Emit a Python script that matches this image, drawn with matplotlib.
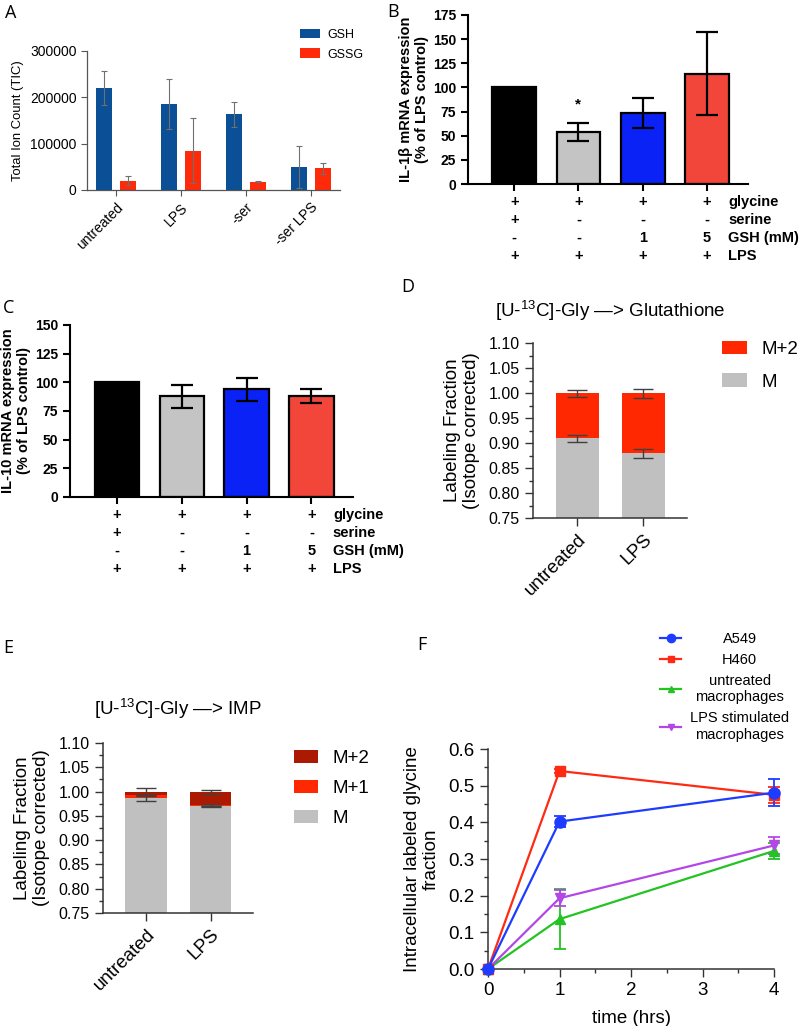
import matplotlib
matplotlib.use('Agg')
import matplotlib.pyplot as plt
import numpy as np
from matplotlib.ticker import MultipleLocator, FormatStrFormatter, FixedLocator
from matplotlib.lines import Line2D

plt.rcParams['font.family'] = ['Liberation Sans', 'DejaVu Sans']
plt.rcParams['mathtext.fontset'] = 'custom'
plt.rcParams['mathtext.rm'] = 'Liberation Sans'
plt.rcParams['mathtext.it'] = 'Liberation Sans:italic'
plt.rcParams['mathtext.bf'] = 'Liberation Sans:bold'

# ---------------- DATA ----------------
# Panel A
a_categories = ['untreated', 'LPS', '-ser', '-ser LPS']
a_gsh = [220000, 185000, 163000, 50000]
a_gsh_err = [36000, 54000, 26000, 46000]
a_gssg = [20000, 85000, 18000, 47000]
a_gssg_err = [10000, 70000, 1000, 12000]

# Panel B (IL-1beta)
b_values = [100, 54, 74, 114]
b_err = [0, 9, 15.5, 43]
# Panel C (IL-10)
c_values = [100, 88, 94, 88]
c_err = [0, 10, 10, 6]

table_labels = ['glycine', 'serine', 'GSH (mM)', 'LPS']
table_glycine = ['+', '+', '+', '+']
table_serine = ['+', '-', '-', '-']
table_gsh = ['-', '-', '1', '5']
table_lps = ['+', '+', '+', '+']

# Panel D (Glutathione)
d_categories = ['untreated', 'LPS']
d_m = [0.910, 0.880]
d_m2 = [0.090, 0.120]
d_m_err = [0.007, 0.009]
d_top_err = [0.007, 0.009]

# Panel E (IMP)
e_categories = ['untreated', 'LPS']
e_m = [0.986, 0.970]
e_m1 = [0.007, 0.002]
e_m2 = [0.007, 0.028]
e_m_err = [0.005, 0.0]
e_m1_err = [0.0, 0.003]
e_top_err = [0.007, 0.004]

# Panel F (time course)
f_time = [0, 1, 4]
f_a549 = [0.0, 0.402, 0.481]
f_a549_err = [0.0, 0.015, 0.037]
f_h460 = [0.0, 0.540, 0.475]
f_h460_err = [0.0, 0.005, 0.021]
f_untr = [0.0, 0.136, 0.322]
f_untr_err = [0.0, 0.081, 0.021]
f_lps = [0.0, 0.193, 0.337]
f_lps_err = [0.0, 0.022, 0.024]

# ---------------- FIGURE ----------------
W, H = 800, 1026
fig = plt.figure(figsize=(W / 100, H / 100), dpi=100)


def px_axes(x0, y0, x1, y1):
    return fig.add_axes([x0 / W, 1 - y1 / H, (x1 - x0) / W, (y1 - y0) / H])


def letter(x, y, s):
    fig.text(x / W, 1 - y / H, s, fontsize=13, family=['Open Sans', 'DejaVu Sans'],
             ha='left', va='center')


# ---------- Panel A ----------
axA = px_axes(87, 51, 340, 190)
xa = np.arange(len(a_categories))
off = 0.185
bw = 0.25
axA.bar(xa - off, a_gsh, bw, color='#0b4f96', label='GSH', zorder=2)
axA.bar(xa + off, a_gssg, bw, color='#ff2a0a', label='GSSG', zorder=2)
axA.errorbar(xa - off, a_gsh, yerr=a_gsh_err, fmt='none', ecolor='#707070',
             elinewidth=0.8, capsize=2.2, capthick=0.8, zorder=3)
axA.errorbar(xa + off, a_gssg, yerr=a_gssg_err, fmt='none', ecolor='#707070',
             elinewidth=0.8, capsize=2.2, capthick=0.8, zorder=3)
axA.set_xlim(-0.45, 3.45)
axA.set_ylim(0, 300000)
axA.yaxis.set_major_locator(FixedLocator([0, 100000, 200000, 300000]))
axA.yaxis.set_major_formatter(FormatStrFormatter('%d'))
axA.set_xticks(xa)
axA.set_xticklabels(a_categories, rotation=45, ha='right', rotation_mode='anchor', fontsize=10)
axA.tick_params(axis='y', labelsize=10, length=4, width=0.8, color='#555555')
axA.tick_params(axis='x', length=4, width=0.8, color='#555555')
for s in ['top', 'right']:
    axA.spines[s].set_visible(False)
for s in ['left', 'bottom']:
    axA.spines[s].set_color('#555555')
    axA.spines[s].set_linewidth(0.9)
axA.set_ylabel('Total Ion Count (TIC)', fontsize=9.4, labelpad=4)
axA.legend(loc='upper left', bbox_to_anchor=(0.84, 1.16), frameon=False, fontsize=9,
           handlelength=1.6, handleheight=0.8, labelspacing=0.6, handletextpad=0.6,
           borderpad=0, borderaxespad=0)
letter(5, 13, 'A')


# ---------- Panels B and C ----------
def il_panel(ax, values, errs, ymax, ylabel):
    x = np.arange(len(values))
    cols = ['#000000', '#c4c4c4', '#0a22f5', '#f2463a']
    ax.bar(x, values, 0.68, color=cols, edgecolor='black', linewidth=1.6, zorder=2)
    for i in range(len(values)):
        if errs[i] > 0:
            ax.errorbar(x[i], values[i], yerr=errs[i], fmt='none', ecolor='black',
                        elinewidth=1.6, capsize=8, capthick=1.6, zorder=3)
    ax.set_xlim(-0.72, 3.64)
    ax.set_ylim(0, ymax)
    ax.yaxis.set_major_locator(MultipleLocator(25))
    ax.set_xticks(x)
    ax.set_xticklabels([])
    ax.tick_params(axis='both', length=5, width=1.5, labelsize=10)
    for lab in ax.get_yticklabels():
        lab.set_fontweight('bold')
    for s in ['top', 'right']:
        ax.spines[s].set_visible(False)
    for s in ['left', 'bottom']:
        ax.spines[s].set_linewidth(1.5)
    ax.set_ylabel(ylabel, fontsize=10.5, fontweight='bold', labelpad=3)
    rows = [table_glycine, table_serine, table_gsh, table_lps]
    for r, (lab, vals) in enumerate(zip(table_labels, rows)):
        dy = -(18 + 18 * r) * 0.72
        for i, v in enumerate(vals):
            ax.annotate(v, xy=(i, 0), xycoords=('data', 'axes fraction'),
                        xytext=(0, dy), textcoords='offset points', ha='center',
                        va='center', fontsize=10.5, fontweight='bold')
        ax.annotate(lab, xy=(3.33, 0), xycoords=('data', 'axes fraction'),
                    xytext=(0, dy), textcoords='offset points', ha='left',
                    va='center', fontsize=10.5, fontweight='bold')


axB = px_axes(468, 15, 748, 184)
il_panel(axB, b_values, b_err, 175, 'IL-1\u03b2 mRNA expression\n(% of LPS control)')
axB.text(1, 82, '*', ha='center', va='center', fontsize=11, fontweight='bold')
letter(387, 12, 'B')

axC = px_axes(70, 325, 353, 497)
il_panel(axC, c_values, c_err, 150, 'IL-10 mRNA expression\n(% of LPS control)')
letter(3, 308, 'C')


# ---------- Panels D and E ----------
def label_axes_style(ax, cats):
    ax.set_xlim(-0.67, 1.66)
    ax.set_ylim(0.75, 1.10)
    ax.yaxis.set_major_locator(MultipleLocator(0.05))
    ax.yaxis.set_minor_locator(MultipleLocator(0.025))
    ax.yaxis.set_major_formatter(FormatStrFormatter('%.2f'))
    ax.set_xticks(np.arange(len(cats)))
    ax.set_xticklabels(cats, rotation=45, ha='right', rotation_mode='anchor', fontsize=13.5)
    ax.tick_params(axis='y', which='major', length=6, width=1, labelsize=11.5, color='#333333')
    ax.tick_params(axis='y', which='minor', length=3, width=1, color='#333333')
    ax.tick_params(axis='x', length=6, width=1, color='#333333')
    for s in ['top', 'right']:
        ax.spines[s].set_visible(False)
    for s in ['left', 'bottom']:
        ax.spines[s].set_color('#333333')
        ax.spines[s].set_linewidth(1.1)
    ax.set_ylabel('Labeling Fraction\n(Isotope corrected)', fontsize=13.5, labelpad=6)


axD = px_axes(533, 343, 687, 518)
xd = np.arange(len(d_categories))
axD.bar(xd, d_m, 0.65, color='#c0c0c0', label='M', zorder=2)
axD.bar(xd, d_m2, 0.65, bottom=d_m, color='#ff2800', label='M+2', zorder=2)
d_top = [m + m2 for m, m2 in zip(d_m, d_m2)]
axD.errorbar(xd, d_m, yerr=d_m_err, fmt='none', ecolor='#404040', elinewidth=1,
             capsize=7, capthick=1, zorder=3)
axD.errorbar(xd, d_top, yerr=d_top_err, fmt='none', ecolor='#404040', elinewidth=1,
             capsize=7, capthick=1, zorder=3)
label_axes_style(axD, d_categories)
axD.set_title('[U-$^{13}$C]-Gly \u2014> Glutathione', fontsize=13.5, pad=19)
hD, lD = axD.get_legend_handles_labels()
axD.legend(hD[::-1], lD[::-1], loc='upper left', bbox_to_anchor=(1.23, 1.01), frameon=False,
           fontsize=13.5, handlelength=1.3, handleheight=0.7, labelspacing=0.8,
           handletextpad=0.8, borderpad=0, borderaxespad=0)
letter(401, 287, 'D')

axE = px_axes(103, 743, 253, 913)
xe = np.arange(len(e_categories))
e_b1 = e_m
e_b2 = [m + m1 for m, m1 in zip(e_m, e_m1)]
e_top = [b + m2 for b, m2 in zip(e_b2, e_m2)]
axE.bar(xe, e_m, 0.65, color='#c0c0c0', label='M', zorder=2)
axE.bar(xe, e_m1, 0.65, bottom=e_b1, color='#ff2800', label='M+1', zorder=2)
axE.bar(xe, e_m2, 0.65, bottom=e_b2, color='#ab1a00', label='M+2', zorder=2)
axE.errorbar(xe, e_m, yerr=e_m_err, fmt='none', ecolor='#404040', elinewidth=1,
             capsize=7, capthick=1, zorder=3)
axE.errorbar(xe, e_b2, yerr=e_m1_err, fmt='none', ecolor='#404040', elinewidth=1,
             capsize=7, capthick=1, zorder=3)
axE.errorbar(xe, e_top, yerr=e_top_err, fmt='none', ecolor='#404040', elinewidth=1,
             capsize=7, capthick=1, zorder=3)
label_axes_style(axE, e_categories)
axE.set_title('[U-$^{13}$C]-Gly \u2014> IMP', fontsize=13.5, pad=20)
hE, lE = axE.get_legend_handles_labels()
axE.legend(hE[::-1], lE[::-1], loc='upper left', bbox_to_anchor=(1.27, 0.96), frameon=False,
           fontsize=13.5, handlelength=1.3, handleheight=0.7, labelspacing=0.7,
           handletextpad=0.8, borderpad=0, borderaxespad=0)
letter(3, 648, 'E')

# ---------- Panel F ----------
axF = px_axes(488, 749, 774, 969)
series = [
    ('untreated\nmacrophages', f_untr, f_untr_err, '#22c322', '^', 6.5),
    ('LPS stimulated\nmacrophages', f_lps, f_lps_err, '#b347e6', 'v', 6.5),
    ('H460', f_h460, f_h460_err, '#ff2a14', 's', 6.5),
    ('A549', f_a549, f_a549_err, '#1e3cff', 'o', 8),
]
handles = {}
for lab, yv, ev, col, mk, ms in series:
    axF.errorbar(f_time, yv, yerr=ev, color=col, marker=mk, markersize=ms, lw=1.6,
                 elinewidth=1.3, capsize=4.5, capthick=1.3, clip_on=False, zorder=3)
    handles[lab] = Line2D([0], [0], color=col, marker=mk, markersize=ms * 0.75, lw=1.6)
axF.set_xlim(0, 4)
axF.set_ylim(0, 0.6)
axF.xaxis.set_major_locator(MultipleLocator(1))
axF.xaxis.set_minor_locator(MultipleLocator(0.5))
axF.yaxis.set_major_locator(MultipleLocator(0.1))
axF.yaxis.set_minor_locator(MultipleLocator(0.05))
axF.yaxis.set_major_formatter(FormatStrFormatter('%.1f'))
axF.tick_params(axis='both', which='major', length=6, width=1, labelsize=13.5, color='#333333')
axF.tick_params(axis='both', which='minor', length=3, width=1, color='#333333')
for s in ['top', 'right']:
    axF.spines[s].set_visible(False)
for s in ['left', 'bottom']:
    axF.spines[s].set_color('#333333')
    axF.spines[s].set_linewidth(1.1)
axF.set_ylabel('Intracellular labeled glycine\nfraction', fontsize=13.5, labelpad=6)
axF.set_xlabel('time (hrs)', fontsize=13.5, labelpad=8)
order = ['A549', 'H460', 'untreated\nmacrophages', 'LPS stimulated\nmacrophages']
legF = axF.legend([handles[k] for k in order], order, loc='upper left',
                  bbox_to_anchor=(0.60, 1.53), frameon=False, fontsize=10.5,
                  handlelength=1.5, handletextpad=0.6, labelspacing=0.45,
                  borderpad=0, borderaxespad=0)
for t in legF.get_texts():
    t.set_multialignment('center')
    t.set_linespacing(1.25)

# center the legend labels of panel F within their column
fig.canvas.draw()
rend = fig.canvas.get_renderer()
ftexts = legF.get_texts()
fwidths = [t.get_window_extent(rend).width for t in ftexts]
fmax = max(fwidths)
for t, w in zip(ftexts, fwidths):
    t.set_x((fmax - w) / 2)

letter(417, 645, 'F')

fig.savefig('out.png', dpi=100)
